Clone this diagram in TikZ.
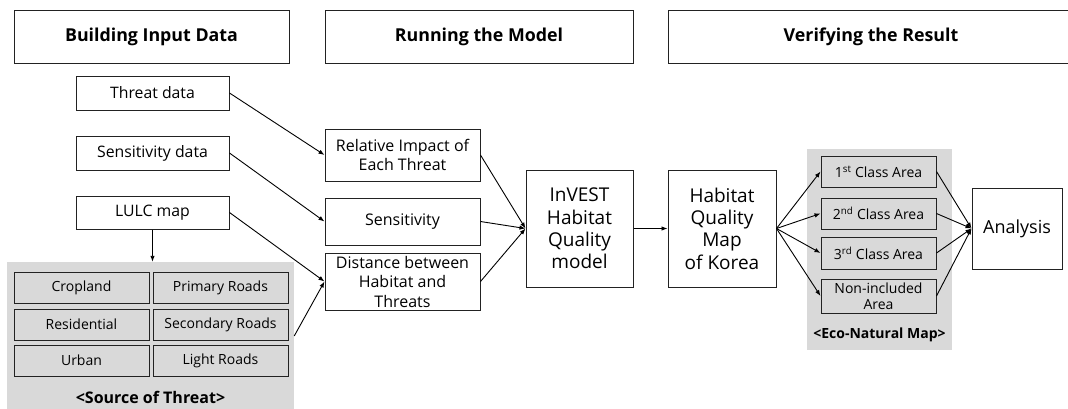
\documentclass[tikz,border=0pt]{standalone}
\usepackage{fontspec}
\setmainfont{Open Sans}
\usetikzlibrary{arrows.meta}
\definecolor{greyfill}{HTML}{D9D9D9}
\definecolor{edge}{HTML}{222222}
\tikzset{
  base/.style={draw=edge, line width=1pt, inner sep=0pt, align=center, fill=white},
  hdr/.style={base, font=\fontsize{17.8}{20}\selectfont\bfseries, minimum height=53pt},
  box/.style={base, font=\fontsize{15.8}{18.5}\selectfont, minimum height=34pt, minimum width=153pt},
  mid/.style={base, font=\fontsize{16}{18.5}\selectfont, minimum width=155pt},
  big/.style={base, font=\fontsize{19}{22.4}\selectfont, minimum height=117pt},
  cell/.style={base, fill=greyfill, font=\fontsize{14}{17}\selectfont, minimum width=135pt, minimum height=31pt},
  cls/.style={base, fill=greyfill, font=\fontsize{14}{16}\selectfont, minimum width=115pt},
  region/.style={fill=greyfill, draw=none, inner sep=0pt},
  lbl/.style={font=\fontsize{16}{18}\selectfont\bfseries, inner sep=0pt},
  arr/.style={draw=black, line width=0.9pt, -{Latex[length=6pt,width=4.5pt]}},
}
\begin{document}
\begin{tikzpicture}[x=1pt,y=-1pt]
\useasboundingbox (0,0) rectangle (1068,408);
% headers
\node[hdr, minimum width=275pt] (h1) at (151.5,36.5) {Building Input Data};
\node[hdr, minimum width=308pt] (h2) at (479,36.5) {Running the Model};
\node[hdr, minimum width=406pt] (h3) at (871,36.5) {Verifying the Result};
% input data
\node[box] (threat) at (152.5,93) {Threat data};
\node[box] (sensd) at (152.5,153) {Sensitivity data};
\node[box, minimum height=33pt] (lulc) at (152.5,212.5) {LULC map};
% source of threat region
\node[region, minimum width=287pt, minimum height=148pt] (src) at (150.5,336) {};
\node[cell] (c1) at (81.5,287.5) {Cropland};
\node[cell] (c2) at (220.5,287.5) {Primary Roads};
\node[cell] (c3) at (81.5,324.5) {Residential};
\node[cell] (c4) at (220.5,324.5) {Secondary Roads};
\node[cell] (c5) at (81.5,360.5) {Urban};
\node[cell] (c6) at (220.5,360.5) {Light Roads};
\node[lbl] (srclbl) at (150.5,397) {<Source of Threat>};
% model inputs
\node[mid, minimum height=52pt] (rel) at (402.5,155) {Relative Impact of\\Each Threat};
\node[mid, minimum height=47pt] (sens) at (402.5,221.5) {Sensitivity};
\node[mid, minimum height=57pt, font=\fontsize{16}{19.5}\selectfont] (dist) at (402.5,281.5) {Distance between\\Habitat and\\Threats};
\node[big, minimum width=107pt] (inv) at (579.5,228.5) {InVEST\\Habitat\\Quality\\model};
\node[big, minimum width=108pt] (hab) at (722,228.5) {Habitat\\Quality\\Map\\of Korea};
% eco-natural map region
\node[region, minimum width=145pt, minimum height=201pt] (eco) at (879.5,249.5) {};
\node[cls, minimum height=31pt] (k1) at (878.5,171.5) {1\textsuperscript{st} Class Area};
\node[cls, minimum height=31pt] (k2) at (878.5,213.5) {2\textsuperscript{nd} Class Area};
\node[cls, minimum height=32pt] (k3) at (878.5,253) {3\textsuperscript{rd} Class Area};
\node[cls, minimum height=34pt] (k4) at (878.5,296) {Non-included\\Area};
\node[lbl, font=\fontsize{14}{17}\selectfont\bfseries] (ecolbl) at (879.5,335) {<Eco-Natural Map>};
\node[big, minimum width=90pt, minimum height=81pt, font=\fontsize{18}{21}\selectfont] (ana) at (1017,228.5) {Analysis};
% connectors
\draw[arr] (lulc.south) -- (lulc.south |- src.north);
\draw[arr] (threat.east) -- (rel.west);
\draw[arr] (sensd.east) -- (sens.west);
\draw[arr] (lulc.east) -- (dist.west);
\draw[arr] (src.east) -- (dist.west);
\draw[arr] (rel.east) -- (inv.west);
\draw[arr] (sens.east) -- (inv.west);
\draw[arr] (dist.east) -- (inv.west);
\draw[arr] (inv.east) -- (hab.west);
\draw[arr] (hab.east) -- (k1.west);
\draw[arr] (hab.east) -- (k2.west);
\draw[arr] (hab.east) -- (k3.west);
\draw[arr] (hab.east) -- (k4.west);
\draw[arr] (k1.east) -- (ana.west);
\draw[arr] (k2.east) -- (ana.west);
\draw[arr] (k3.east) -- (ana.west);
\draw[arr] (k4.east) -- (ana.west);
\end{tikzpicture}
\end{document}
